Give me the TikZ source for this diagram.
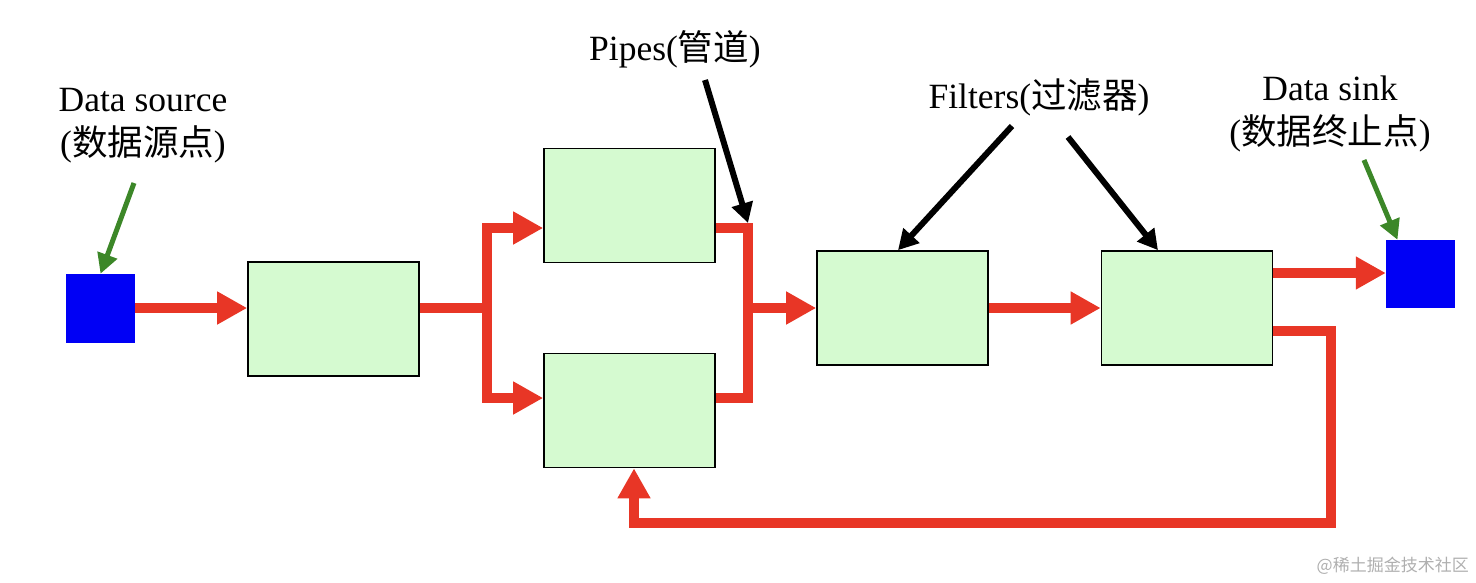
\documentclass[tikz,border=0pt]{standalone}
\usepackage{fontspec}
\setmainfont{Liberation Serif}
\newfontfamily\cjk{Noto Sans CJK SC}
\usetikzlibrary{arrows.meta}
\definecolor{pipered}{RGB}{232,54,38}
\definecolor{boxgreen}{RGB}{213,250,208}
\definecolor{srcblue}{RGB}{0,0,245}
\definecolor{anngreen}{RGB}{60,135,40}
\definecolor{wmgray}{RGB}{175,175,175}
\tikzset{
  filterbox/.style={draw=black,line width=1.6pt,fill=boxgreen,minimum width=171pt,minimum height=114pt,inner sep=0pt},
  endbox/.style={fill=srcblue,minimum width=69pt,minimum height=69pt,inner sep=0pt},
  pipe/.style={draw=pipered,line width=10pt,line join=miter},
  pipearrow/.style={pipe,-{Triangle[length=30pt,width=31pt]}},
  ann/.style={draw=black,line width=6pt,-{Triangle[length=20pt,width=21pt]}},
  gann/.style={draw=anngreen,line width=5pt,-{Triangle[length=20pt,width=20pt]}},
  lbl/.style={font=\fontsize{35.5}{44}\selectfont,align=center,inner sep=0pt}
}
\begin{document}
\begin{tikzpicture}[x=1pt,y=-1pt]
\useasboundingbox (0,0) rectangle (1476,582);
% nodes
\node[endbox] (src) at (100.5,308.5) {};
\node[filterbox] (b1) at (333.5,319) {};
\node[filterbox] (b2) at (629.5,205.5) {};
\node[filterbox] (b3) at (629.5,410.5) {};
\node[filterbox] (b4) at (902.5,308) {};
\node[filterbox] (b5) at (1187,308) {};
\node[endbox,minimum height=68pt] (sink) at (1420.5,274) {};
% junction coordinates
\coordinate (s) at (487,308);
\coordinate (s1) at (487,228);
\coordinate (s2) at (487,398);
\coordinate (m) at (748,308);
\coordinate (m1) at (748,228);
\coordinate (m2) at (748,398);
\coordinate (f1) at (1331,331);
\coordinate (f2) at (1331,523);
\coordinate (f3) at (634,523);
% pipes
\draw[pipearrow] (src.east |- 0,308) -- (b1.west |- 0,308);
\draw[pipe] (b1.east |- s) -- (s);
\draw[pipe,{Triangle[length=30pt,width=31pt]}-{Triangle[length=30pt,width=31pt]}] (s1 -| b2.west) -- (s1) -- (s2) -- (s2 -| b3.west);
\draw[pipe] (m1 -| b2.east) -- (m1) -- (m2) -- (m2 -| b3.east);
\draw[pipearrow] (m) -- (m -| b4.west);
\draw[pipearrow] (b4.east) -- (b5.west);
\draw[pipearrow] (b5.east |- 0,273) -- (sink.west |- 0,273);
\draw[pipearrow] (f1 -| b5.east) -- (f1) -- (f2) -- (f3) -- (f3 |- b3.south);
% labels
\node[lbl] (lsrc) at (143,126) {Data source\\({\cjk 数据源点})};
\node[lbl] (lpipe) at (675,49) {Pipes({\cjk 管道})};
\node[lbl] (lfilt) at (1039,97) {Filters({\cjk 过滤器})};
\node[lbl] (lsink) at (1330,114) {Data sink\\({\cjk 数据终止点})};
% annotation arrows
\coordinate (pa) at (705,80);
\coordinate (pt) at (748,223);
\coordinate (fa) at (1012,126);
\coordinate (fb) at (1068,137);
\coordinate (ga) at (134,183);
\coordinate (gb) at (1364,160);
\draw[ann] (pa) -- (pt);
\draw[ann] (fa) -- ([xshift=-4.5pt]b4.north);
\draw[ann] (fb) -- ([xshift=-29pt]b5.north);
\draw[gann] (ga) -- (src.north);
\draw[gann] (gb) -- ([xshift=-23pt]sink.north);
% watermark
\node[anchor=east,text=wmgray,font=\cjk\fontsize{17}{20}\selectfont,inner sep=0pt] (wm) at (1469,566) {@稀土掘金技术社区};
\end{tikzpicture}
\end{document}
